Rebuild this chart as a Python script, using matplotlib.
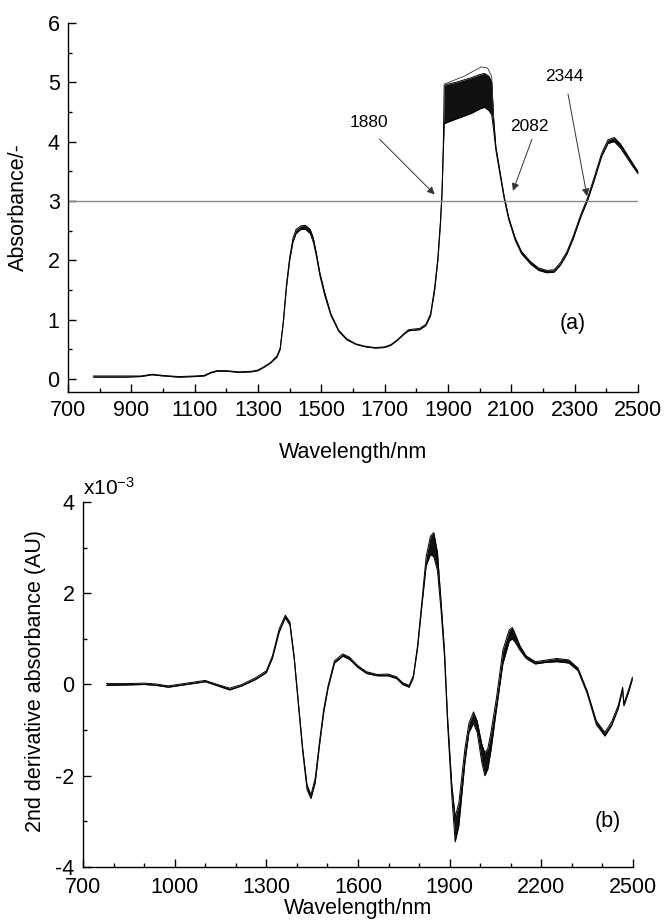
import matplotlib
matplotlib.use("Agg")
import matplotlib.pyplot as plt

plt.rcParams["font.family"] = ["Liberation Sans", "DejaVu Sans"]
plt.rcParams["mathtext.default"] = "regular"
plt.rcParams["axes.unicode_minus"] = False

# (a) absorbance spectra: lower / upper edge of the bundle of spectra
wl_a = [780, 820, 880, 930, 965, 1000, 1050, 1100, 1130, 1150, 1170, 1200,
        1240, 1280, 1300, 1320, 1340, 1360, 1370, 1380, 1390, 1400, 1410,
        1420, 1435, 1450, 1465, 1475, 1485, 1495, 1510, 1530, 1555, 1580,
        1610, 1640, 1670, 1700, 1720, 1740, 1760, 1775, 1790, 1810, 1830,
        1845, 1858, 1868, 1876, 1881, 1885, 1888, 1900, 1925, 1950, 1975,
        2000, 2015, 2030, 2038, 2044, 2051, 2064, 2078, 2092, 2112, 2132,
        2160, 2186, 2212, 2235, 2255, 2275, 2295, 2320, 2340, 2360, 2385,
        2405, 2425, 2445, 2465, 2485, 2500]
abs_low = [0.03, 0.03, 0.03, 0.04, 0.07, 0.05, 0.03, 0.04, 0.05, 0.10, 0.13,
           0.13, 0.11, 0.12, 0.14, 0.20, 0.27, 0.37, 0.50, 0.95, 1.55, 2.00,
           2.30, 2.45, 2.52, 2.52, 2.45, 2.30, 2.05, 1.75, 1.42, 1.07, 0.80,
           0.66, 0.58, 0.54, 0.52, 0.53, 0.57, 0.65, 0.75, 0.81, 0.82, 0.83,
           0.90, 1.07, 1.50, 2.00, 2.60, 3.10, 3.80, 4.30, 4.33, 4.38, 4.43,
           4.48, 4.55, 4.58, 4.52, 4.45, 4.20, 3.86, 3.45, 3.02, 2.68, 2.34,
           2.11, 1.94, 1.83, 1.79, 1.80, 1.92, 2.10, 2.36, 2.74, 3.00, 3.32,
           3.75, 3.97, 4.00, 3.89, 3.73, 3.57, 3.46]
abs_high = [0.05, 0.05, 0.05, 0.05, 0.08, 0.06, 0.04, 0.05, 0.06, 0.11, 0.14,
            0.14, 0.12, 0.13, 0.15, 0.21, 0.28, 0.39, 0.52, 0.98, 1.60, 2.05,
            2.36, 2.52, 2.58, 2.59, 2.52, 2.37, 2.10, 1.80, 1.47, 1.10, 0.82,
            0.68, 0.59, 0.55, 0.53, 0.54, 0.58, 0.66, 0.76, 0.83, 0.84, 0.85,
            0.92, 1.10, 1.55, 2.05, 2.65, 3.15, 3.90, 4.95, 4.97, 5.00, 5.04,
            5.08, 5.13, 5.15, 5.10, 5.00, 4.40, 3.92, 3.50, 3.06, 2.72, 2.38,
            2.15, 1.98, 1.87, 1.83, 1.84, 1.96, 2.14, 2.40, 2.78, 3.04, 3.37,
            3.80, 4.03, 4.07, 3.96, 3.79, 3.62, 3.50]

# single outlying spectrum above the bundle around 1900-2040 nm
wl_top = [1888, 1950, 2005, 2025, 2038, 2044]
abs_top = [4.97, 5.10, 5.26, 5.24, 5.10, 4.40]

# (b) second derivative (x10^-3)
wl_b = [777, 850, 900, 940, 979, 1040, 1100, 1140, 1180, 1220, 1265, 1300,
        1320, 1342, 1362, 1377, 1391, 1405, 1419, 1433, 1446, 1460, 1474,
        1488, 1502, 1523, 1550, 1572, 1600, 1628, 1663, 1698, 1726, 1746,
        1767, 1781, 1795, 1809, 1823, 1837, 1848, 1860, 1872, 1883, 1893,
        1907, 1918, 1930, 1940, 1950, 1963, 1978, 1990, 2005, 2015, 2025,
        2035, 2053, 2074, 2095, 2105, 2115, 2130, 2150, 2180, 2210, 2250,
        2290, 2320, 2350, 2380, 2408, 2430, 2452, 2466, 2470, 2485, 2498]
d2_low = [-0.02, -0.01, 0.00, -0.02, -0.06, 0.00, 0.06, -0.03, -0.12, -0.03,
          0.11, 0.26, 0.58, 1.15, 1.46, 1.30, 0.56, -0.46, -1.48, -2.30,
          -2.50, -2.15, -1.33, -0.60, -0.08, 0.47, 0.62, 0.55, 0.37, 0.24,
          0.19, 0.19, 0.13, 0.00, -0.06, 0.15, 0.80, 1.72, 2.60, 2.85, 2.80,
          2.50, 1.60, 0.60, -0.85, -2.45, -3.45, -3.10, -2.40, -1.70, -1.05,
          -0.85, -1.05, -1.70, -2.00, -1.85, -1.45, -0.55, 0.45, 0.95, 1.00,
          0.92, 0.75, 0.57, 0.45, 0.48, 0.50, 0.47, 0.30, -0.20, -0.88,
          -1.13, -0.90, -0.52, -0.11, -0.47, -0.18, 0.12]
d2_high = [0.02, 0.02, 0.03, 0.01, -0.03, 0.03, 0.09, 0.00, -0.08, 0.00,
           0.15, 0.30, 0.63, 1.22, 1.52, 1.37, 0.62, -0.40, -1.40, -2.20,
           -2.42, -2.05, -1.25, -0.53, -0.03, 0.52, 0.67, 0.60, 0.41, 0.28,
           0.22, 0.23, 0.17, 0.04, -0.02, 0.19, 0.86, 1.82, 2.80, 3.25, 3.33,
           2.90, 1.80, 0.75, -0.70, -2.20, -2.90, -2.60, -2.00, -1.40, -0.85,
           -0.60, -0.80, -1.30, -1.50, -1.40, -1.05, -0.30, 0.75, 1.20, 1.25,
           1.10, 0.85, 0.63, 0.50, 0.53, 0.57, 0.54, 0.36, -0.14, -0.80,
           -1.05, -0.82, -0.45, -0.06, -0.42, -0.12, 0.16]

# annotated crossings of A = 3
cross_labels = ["1880", "2082", "2344"]
cross_text = [(1650, 4.32), (2156, 4.26), (2266, 5.10)]
cross_tail = [(1684, 4.04), (2165, 4.04), (2279, 4.80)]
cross_head = [(1858, 3.11), (2105, 3.17), (2339, 3.08)]

xticks_a = list(range(700, 2501, 200))
xticks_b = list(range(700, 2501, 300))

fig = plt.figure(figsize=(6.65, 9.22), dpi=100)
ax1 = fig.add_axes([68 / 665, 1 - 392 / 922, 570 / 665, 369 / 922])
ax2 = fig.add_axes([83 / 665, 1 - 867 / 922, 550 / 665, 365 / 922])

# top panel
ax1.fill_between(wl_a, abs_low, abs_high, color="#111111", lw=0)
ax1.plot(wl_a, abs_low, color="black", lw=0.7)
ax1.plot(wl_a, abs_high, color="black", lw=0.7)
ax1.plot(wl_top, abs_top, color="#333333", lw=0.6)
ax1.axhline(3, color="#8a8a8a", lw=1.0)
for lab, t, s, h in zip(cross_labels, cross_text, cross_tail, cross_head):
    ax1.text(t[0], t[1], lab, fontsize=12.5, ha="center", va="center")
    ax1.annotate("", xy=h, xytext=s,
                 arrowprops=dict(arrowstyle="-|>", color="#333333", lw=0.7,
                                 mutation_scale=11, shrinkA=0, shrinkB=0))
ax1.text(2293, 0.93, "(a)", fontsize=15.5, ha="center", va="center")
ax1.set_xlim(700, 2500)
ax1.set_ylim(-0.22, 6)
ax1.set_xticks(xticks_a)
ax1.set_xticks(list(range(800, 2500, 200)), minor=True)
ax1.set_yticks(range(0, 7))
ax1.set_yticks([0.5, 1.5, 2.5, 3.5, 4.5, 5.5], minor=True)
ax1.set_xlabel("Wavelength/nm", fontsize=15.5)
ax1.set_ylabel("Absorbance/-", fontsize=15.5)
ax1.xaxis.set_label_coords(0.5, -0.135)
ax1.yaxis.set_label_coords(-0.068, 0.5)

# bottom panel
ax2.fill_between(wl_b, d2_low, d2_high, color="#111111", lw=0)
ax2.plot(wl_b, d2_low, color="black", lw=0.7)
ax2.plot(wl_b, d2_high, color="black", lw=0.7)
ax2.text(2416, -3.0, "(b)", fontsize=15.5, ha="center", va="center")
ax2.text(0.0, 1.01, r"x10$^{-3}$", transform=ax2.transAxes, fontsize=15,
         ha="left", va="bottom")
ax2.set_xlim(700, 2500)
ax2.set_ylim(-4, 4)
ax2.set_xticks(xticks_b)
ax2.set_xticks([x for x in range(800, 2500, 100) if x not in xticks_b],
               minor=True)
ax2.set_yticks([-4, -2, 0, 2, 4])
ax2.set_yticks([-3, -1, 1, 3], minor=True)
ax2.set_xlabel("Wavelength/nm", fontsize=15.5)
ax2.set_ylabel("2nd derivative absorbance (AU)", fontsize=15.5)
ax2.xaxis.set_label_coords(0.5, -0.085)
ax2.yaxis.set_label_coords(-0.067, 0.51)

for ax in (ax1, ax2):
    ax.spines["top"].set_visible(False)
    ax.spines["right"].set_visible(False)
    for sp in ("left", "bottom"):
        ax.spines[sp].set_linewidth(1.0)
    ax.tick_params(which="both", direction="in", labelsize=15.5, width=1.0)
    ax.tick_params(which="major", length=6, pad=6)
    ax.tick_params(which="minor", length=3)
ax2.tick_params(axis="x", which="major", pad=7)

fig.savefig("out.png", dpi=100)
